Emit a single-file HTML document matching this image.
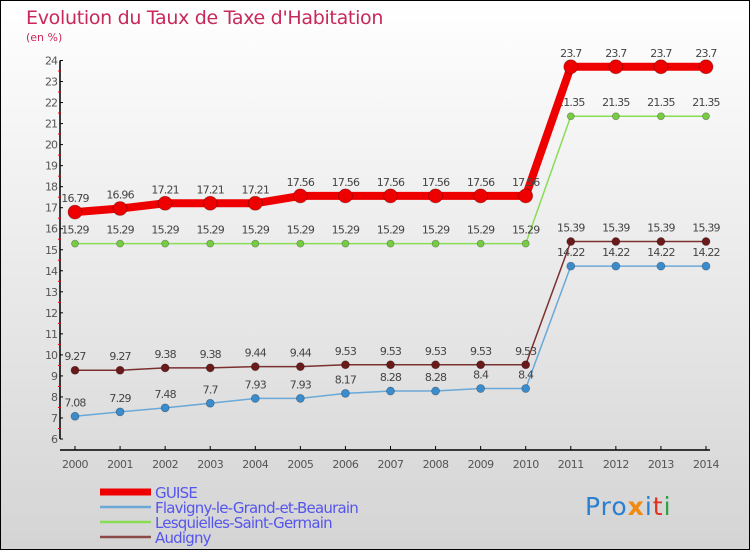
<!DOCTYPE html>
<html><head><meta charset="utf-8"><style>
html,body{margin:0;padding:0}
body{width:750px;height:550px;overflow:hidden;font-family:"DejaVu Sans","Liberation Sans",sans-serif}
svg text{font-family:"DejaVu Sans","Liberation Sans",sans-serif}
</style></head><body>
<svg id="chart" width="750" height="550" xmlns="http://www.w3.org/2000/svg">
<defs><linearGradient id="bg" x1="0" y1="0" x2="0" y2="1"><stop offset="0" stop-color="#ffffff"/><stop offset="1" stop-color="#d4d4d4"/></linearGradient></defs>
<rect x="0.5" y="0.5" width="749" height="549" fill="url(#bg)" stroke="#000"/>
<text x="26" y="24" font-size="19" fill="#c8285a" letter-spacing="-0.3">Evolution du Taux de Taxe d'Habitation</text>
<text x="26" y="41" font-size="11" fill="#c8285a">(en %)</text>
<g id="axes"></g>
<g id="series"></g>
<g id="legend"></g>
<text x="585" y="515" font-size="25" letter-spacing="1"><tspan fill="#2a7fd0">Pro</tspan><tspan fill="#f08a10" font-weight="bold">x</tspan><tspan fill="#2a7fd0">i</tspan><tspan fill="#e03020">t</tspan><tspan fill="#30a040">i</tspan></text>
</svg>
<script>
const years=[2000,2001,2002,2003,2004,2005,2006,2007,2008,2009,2010,2011,2012,2013,2014];
const guise=[16.79,16.96,17.21,17.21,17.21,17.56,17.56,17.56,17.56,17.56,17.56,23.7,23.7,23.7,23.7];
const flavigny=[7.08,7.29,7.48,7.7,7.93,7.93,8.17,8.28,8.28,8.4,8.4,14.22,14.22,14.22,14.22];
const lesquielles=[15.29,15.29,15.29,15.29,15.29,15.29,15.29,15.29,15.29,15.29,15.29,21.35,21.35,21.35,21.35];
const audigny=[9.27,9.27,9.38,9.38,9.44,9.44,9.53,9.53,9.53,9.53,9.53,15.39,15.39,15.39,15.39];
const yTicks=[6,7,8,9,10,11,12,13,14,15,16,17,18,19,20,21,22,23,24];
const seriesNames=["GUISE","Flavigny-le-Grand-et-Beaurain","Lesquielles-Saint-Germain","Audigny"];
const NS="http://www.w3.org/2000/svg";
const x=i=>75+i*(706-75)/(years.length-1);
const y=v=>439+(v-6)*(60.5-439)/18;
function mk(tag,attrs,parent){const e=document.createElementNS(NS,tag);for(const k in attrs)e.setAttribute(k,attrs[k]);parent.appendChild(e);return e;}
const ax=document.getElementById('axes');
let e=mk('line',{x1:60,y1:y(24),x2:60,y2:y(6),stroke:'#000','stroke-width':1.5},ax);


e=mk('line',{x1:60,y1:450,x2:710,y2:450,stroke:'#000','stroke-width':1.5},ax);


yTicks.forEach(t=>{
 mk('line',{x1:60,y1:y(t),x2:63,y2:y(t),stroke:'#000'},ax);
 if(t<24)mk('line',{x1:58,y1:y(t+0.5),x2:61,y2:y(t+0.5),stroke:'#e00'},ax);
 const tx=mk('text',{x:57,y:y(t)+4,'font-size':11,'text-anchor':'end',fill:'#555','letter-spacing':'-1'},ax);
 tx.textContent=t;
 
 
});
years.forEach((yr,i)=>{
 mk('line',{x1:x(i),y1:446,x2:x(i),y2:450,stroke:'#000'},ax);
 const tx=mk('text',{x:x(i),y:468,'font-size':11,'text-anchor':'middle',fill:'#555','letter-spacing':'-0.5'},ax);
 tx.textContent=yr;
 
 
});
const sg=document.getElementById('series');
function draw(data,color,dot,w,r,name){
 const g=mk('g',{},sg);
 
 
 mk('polyline',{points:data.map((v,i)=>x(i)+','+y(v)).join(' '),fill:'none',stroke:color,'stroke-width':w,'stroke-linejoin':'round'},g);
 data.forEach((v,i)=>{
  const c=mk('circle',{cx:x(i),cy:y(v),r:r,fill:dot,stroke:'rgba(0,0,0,0.3)','stroke-width':0.8},g);
  
  
  const t=mk('text',{x:x(i),y:y(v)-10,'font-size':11,'text-anchor':'middle',fill:'#444','letter-spacing':'-0.8'},g);
  t.textContent=v;
  
  
 });
}
draw(lesquielles,'#88dd55','#77cc44',1.5,3.5,'series-lesquielles');
draw(flavigny,'#6aa8d8','#3a8ccc',1.5,4,'series-flavigny');
draw(audigny,'#7a3030','#6a1a1a',1.5,4,'series-audigny');
draw(guise,'#ee0000','#ee0000',8,7,'series-guise');
const lg=document.getElementById('legend');
const lc=['#ee0000','#6aa8d8','#88dd55','#8a4a4a'],lw=[7,2.5,2.5,2.5];
seriesNames.forEach((n,i)=>{
 const yy=492+i*15;
 const l=mk('line',{x1:100,y1:yy,x2:151,y2:yy,stroke:lc[i],'stroke-width':lw[i]},lg);
 
 
 const t=mk('text',{x:155,y:yy+6,'font-size':15,fill:'#5555ee','letter-spacing':'-0.8'},lg);
 t.textContent=n;
 
 
});
</script>
</body></html>
